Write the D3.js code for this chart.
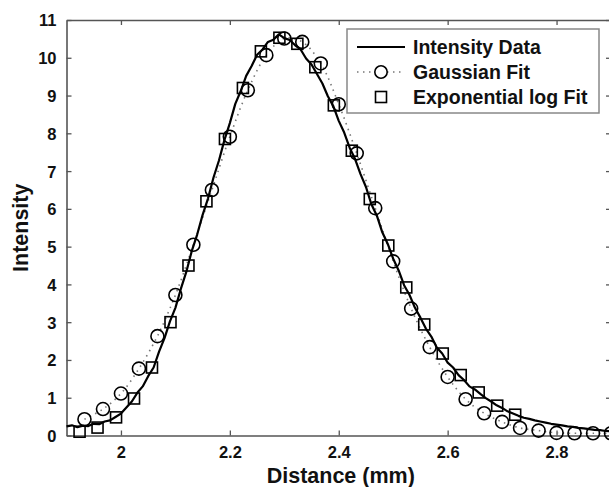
<!DOCTYPE html>
<html>
<head>
<meta charset="utf-8">
<script src="https://cdn.jsdelivr.net/npm/d3@7"></script>
<style>
  body { margin: 0; background: #fff; }
  text { font-family: "Liberation Sans", Arial, Helvetica, sans-serif; font-weight: bold; fill: #111; }
</style>
</head>
<body>
<div id="chart"></div>
<script>
// Data
const intensityX0 = 1.9
const intensityStep = 0.01
const intensityY = [
  0.24, 0.27, 0.22, 0.26, 0.25, 0.31, 0.30, 0.37, 0.40, 0.49,
  0.58, 0.74, 0.90, 1.13, 1.30, 1.57, 1.80, 2.22, 2.58, 3.02,
  3.38, 3.88, 4.33, 4.88, 5.32, 5.84, 6.28, 6.83, 7.28, 7.82,
  8.27, 8.78, 9.12, 9.52, 9.78, 10.08, 10.22, 10.42, 10.48, 10.62,
  10.52, 10.47, 10.33, 10.22, 9.98, 9.82, 9.57, 9.32, 8.98, 8.72,
  8.33, 8.02, 7.62, 7.32, 6.92, 6.58, 6.12, 5.82, 5.38, 5.07,
  4.68, 4.37, 3.98, 3.72, 3.38, 3.12, 2.83, 2.62, 2.33, 2.17,
  1.93, 1.80, 1.60, 1.47, 1.30, 1.22, 1.10, 0.99, 0.90, 0.80,
  0.73, 0.64, 0.58, 0.52, 0.47, 0.44, 0.40, 0.37, 0.34, 0.31,
  0.29, 0.27, 0.24, 0.23, 0.20, 0.19, 0.17, 0.15, 0.14, 0.12, 0.11
]
const intensityX = intensityY.map((d, i) => intensityX0 + i * intensityStep)

const gaussX = [
  1.933, 1.967, 2.000, 2.033, 2.067, 2.100, 2.133, 2.167, 2.200, 2.233,
  2.267, 2.300, 2.333, 2.367, 2.400, 2.433, 2.467, 2.500, 2.533, 2.567,
  2.600, 2.633, 2.667, 2.700, 2.733, 2.767, 2.800, 2.833, 2.867, 2.900
]
const gaussY = [
  0.43, 0.70, 1.11, 1.77, 2.63, 3.72, 5.05, 6.50, 7.91, 9.14,
  10.07, 10.51, 10.42, 9.85, 8.77, 7.47, 6.02, 4.61, 3.36, 2.34,
  1.55, 0.96, 0.59, 0.36, 0.20, 0.13, 0.07, 0.06, 0.06, 0.06
]

const expX = [
  1.924, 1.957, 1.991, 2.024, 2.057, 2.091, 2.124, 2.157, 2.191, 2.224,
  2.257, 2.291, 2.324, 2.357, 2.391, 2.424, 2.457, 2.491, 2.524, 2.557,
  2.591, 2.624, 2.657, 2.691, 2.724
]
const expY = [
  0.10, 0.21, 0.48, 0.98, 1.80, 3.00, 4.50, 6.20, 7.85, 9.20,
  10.17, 10.53, 10.37, 9.75, 8.74, 7.54, 6.26, 5.03, 3.92, 2.94,
  2.17, 1.60, 1.14, 0.79, 0.55
]

const xTicks = [2, 2.2, 2.4, 2.6, 2.8]
const yTicks = d3.range(0, 12)
const legendLabels = ['Intensity Data', 'Gaussian Fit', 'Exponential log Fit']

// Canvas
const W = 609, H = 487
const m = { left: 66.5, right: 611, top: 20, bottom: 435.5 }

const svg = d3.select('#chart').append('svg')
  .attr('width', W)
  .attr('height', H)

const x = d3.scaleLinear().domain([1.9, 2.9]).range([m.left, m.right])
const y = d3.scaleLinear().domain([0, 11]).range([m.bottom, m.top])

const axisColor = '#555'

// Axes (MATLAB style: box, inward ticks)
const fmt = d => String(d)
const gx = svg.append('g')
  .attr('transform', `translate(0,${m.bottom})`)
  .call(d3.axisBottom(x).tickValues(xTicks).tickSizeInner(-5).tickSizeOuter(0).tickPadding(11).tickFormat(fmt))
const gxTop = svg.append('g')
  .attr('transform', `translate(0,${m.top})`)
  .call(d3.axisTop(x).tickValues(xTicks).tickSizeInner(-5).tickSizeOuter(0).tickFormat(''))
const gy = svg.append('g')
  .attr('transform', `translate(${m.left},0)`)
  .call(d3.axisLeft(y).tickValues(yTicks).tickSizeInner(-5).tickSizeOuter(0).tickPadding(10).tickFormat(fmt))
const gyRight = svg.append('g')
  .attr('transform', `translate(${m.right},0)`)
  .call(d3.axisRight(y).tickValues(yTicks).tickSizeInner(-5).tickSizeOuter(0).tickFormat(''))

;[gx, gxTop, gy, gyRight].forEach(g => {
  g.select('.domain').attr('stroke', axisColor).attr('stroke-width', 1.6)
  g.selectAll('.tick line').attr('stroke', axisColor).attr('stroke-width', 1.3)
  g.selectAll('.tick text')
    .attr('font-family', '"Liberation Sans", Arial, sans-serif')
    .attr('font-weight', 'bold')
    .attr('font-size', 16.5)
    .attr('fill', '#111')
})
gy.selectAll('.tick text').attr('dy', '0.36em')

// Axis labels
svg.append('text')
  .attr('x', (m.left + m.right) / 2 + 2)
  .attr('y', 483)
  .attr('text-anchor', 'middle')
  .attr('font-size', 21.5)
  .text('Distance (mm)')

svg.append('text')
  .attr('transform', `translate(28,${(m.top + m.bottom) / 2}) rotate(-90)`)
  .attr('text-anchor', 'middle')
  .attr('font-size', 21.5)
  .text('Intensity')

// Marks
const plot = svg.append('g')

const gaussLine = d3.line()
  .x((d, i) => x(gaussX[i]))
  .y(d => y(d))
  .curve(d3.curveCatmullRom)

plot.append('path')
  .datum(gaussY)
  .attr('d', gaussLine)
  .attr('fill', 'none')
  .attr('stroke', '#777')
  .attr('stroke-width', 1.6)
  .attr('stroke-dasharray', '1.5,4.5')

const dataLine = d3.line()
  .x((d, i) => x(intensityX[i]))
  .y(d => y(d))

plot.append('path')
  .datum(intensityY)
  .attr('d', dataLine)
  .attr('fill', 'none')
  .attr('stroke', '#000')
  .attr('stroke-width', 2.2)
  .attr('stroke-linejoin', 'round')

plot.selectAll('circle.gauss')
  .data(gaussY).enter()
  .append('circle')
  .attr('class', 'gauss')
  .attr('cx', (d, i) => x(gaussX[i]))
  .attr('cy', d => y(d))
  .attr('r', 6.5)
  .attr('fill', 'none')
  .attr('stroke', '#000')
  .attr('stroke-width', 1.6)

const sq = 11
plot.selectAll('rect.exp')
  .data(expY).enter()
  .append('rect')
  .attr('class', 'exp')
  .attr('x', (d, i) => x(expX[i]) - sq / 2)
  .attr('y', d => y(d) - sq / 2)
  .attr('width', sq)
  .attr('height', sq)
  .attr('fill', 'none')
  .attr('stroke', '#000')
  .attr('stroke-width', 1.6)

// Legend
const lg = svg.append('g')
lg.append('rect')
  .attr('x', 347).attr('y', 29)
  .attr('width', 252).attr('height', 84)
  .attr('fill', '#fff')
  .attr('stroke', '#888')
  .attr('stroke-width', 1.5)

const rowY = [47, 72, 97]
lg.append('line')
  .attr('x1', 357).attr('x2', 405).attr('y1', rowY[0]).attr('y2', rowY[0])
  .attr('stroke', '#000').attr('stroke-width', 2.2)
lg.append('line')
  .attr('x1', 357).attr('x2', 405).attr('y1', rowY[1]).attr('y2', rowY[1])
  .attr('stroke', '#777').attr('stroke-width', 1.6).attr('stroke-dasharray', '1.5,4.5')
lg.append('circle')
  .attr('cx', 381).attr('cy', rowY[1]).attr('r', 6.2)
  .attr('fill', '#fff').attr('stroke', '#000').attr('stroke-width', 1.6)
lg.append('rect')
  .attr('x', 381 - 5.5).attr('y', rowY[2] - 5.5).attr('width', 11).attr('height', 11)
  .attr('fill', 'none').attr('stroke', '#000').attr('stroke-width', 1.6)

lg.selectAll('text.lab')
  .data(legendLabels).enter()
  .append('text')
  .attr('class', 'lab')
  .attr('x', 413)
  .attr('y', (d, i) => rowY[i])
  .attr('dy', '0.36em')
  .attr('font-size', 19.5)
  .text(d => d)
</script>
</body>
</html>
